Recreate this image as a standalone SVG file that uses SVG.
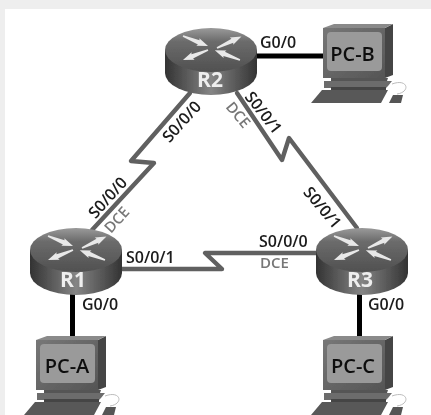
<svg xmlns="http://www.w3.org/2000/svg" width="431" height="415" viewBox="0 0 431 415">
<style>
text{font-family:"Open Sans","Liberation Sans",sans-serif}
.l{font-size:16px;font-weight:600;fill:#1a1a1a}
.d{font-size:15px;font-weight:600;fill:#777}
.r{font-size:21px;font-weight:700;fill:#eee;text-anchor:middle}
.p{font-size:20px;font-weight:600;fill:#111;text-anchor:middle}
.c{text-anchor:middle}
.s{fill:none;stroke:#606060;stroke-width:4.400;stroke-linejoin:round;stroke-linecap:round}
.e{fill:none;stroke:#000;stroke-width:5}
</style>
<defs>
<filter id="b" x="-5%" y="-5%" width="110%" height="110%"><feGaussianBlur stdDeviation="0.5"/></filter>
<linearGradient id="body" x1="0" x2="1" y1="0" y2="0"><stop offset="0" stop-color="#333"/><stop offset=".5" stop-color="#858585"/><stop offset="1" stop-color="#333"/></linearGradient>
<linearGradient id="top" x1="0" x2="0" y1="0" y2="1"><stop offset="0" stop-color="#9a9a9a"/><stop offset=".3" stop-color="#6c6c6c"/><stop offset="1" stop-color="#505050"/></linearGradient>
<linearGradient id="mon" x1="0" x2="1" y1="0" y2="1"><stop offset="0" stop-color="#777"/><stop offset="1" stop-color="#555"/></linearGradient>
<path id="ar" d="M0,-.8L17,-2.200L16,-4L27,0L16,4L17,2.200L0,.8Z" fill="#e8e8e8"/>
<g id="router">
<path d="M-46,22V45A46,22 0 0 0 46,45V22Z" fill="url(#body)"/>
<ellipse cx="0" cy="22" rx="46" ry="22" fill="url(#top)"/>
<use href="#ar" transform="translate(-28,8) rotate(22)"/>
<use href="#ar" transform="translate(-3,22) rotate(158)"/>
<use href="#ar" transform="translate(6,20) rotate(-25)"/>
<use href="#ar" transform="translate(29,32) rotate(201)"/>
</g>
<g id="pc">
<path d="M385,28L393,24V75L385,78Z" fill="#444"/>
<path d="M323,28L334,24H393L385,28Z" fill="#8a8a8a"/>
<rect x="323" y="28" width="62" height="50" fill="url(#mon)"/>
<rect x="327" y="32" width="55" height="39" rx="4" fill="#9a9a9a"/>
<path d="M331,78H388L386,84H331Z" fill="#555"/>
<path d="M324,81H392L388,86L386,88H324Z" fill="#6c6c6c"/>
<rect x="331" y="87" width="55" height="6" fill="#444"/>
<path d="M322,90H388L381,103H311Z" fill="#585858"/>
<path d="M392,84C408,78 411,92 397,94" fill="none" stroke="#bbb" stroke-width="1"/>
<path d="M389,103L393,95H403L401,103Z" fill="#555"/>
</g>
</defs>
<rect width="431" height="415" fill="#fff"/>
<path d="M0,0H431V9H5V415H0Z" fill="#eee"/>
<g filter="url(#b)">
<g id="connectors">
<path class="e" d="M257,56H324"/>
<path class="e" d="M72.500,294V337"/>
<path class="e" d="M359.500,294V337"/>
<path class="s" d="M190,93L131,161L154,163L92,230"/>
<path class="s" d="M237,93L282,160L289,138L357,228"/>
<path class="s" d="M122,269H222L205,253H316"/>
</g>
<g id="R2"><use href="#router" transform="translate(211,28)"/><text class="r" x="210" y="87">R2</text></g>
<g id="R1"><use href="#router" transform="translate(76,228)"/><text class="r" x="73" y="287">R1</text></g>
<g id="R3"><use href="#router" transform="translate(362,228)"/><text class="r" x="360" y="287">R3</text></g>
<g id="PC-B"><use href="#pc"/><text class="p" x="352.500" y="61">PC-B</text></g>
<g id="PC-A"><use href="#pc" transform="translate(-287,312)"/><text class="p" x="67" y="373">PC-A</text></g>
<g id="PC-C"><use href="#pc" transform="translate(0,312)"/><text class="p" x="353" y="373">PC-C</text></g>
<g id="labels">
<text class="l" x="260" y="48">G0/0</text>
<text class="l" x="82" y="310">G0/0</text>
<text class="l" x="368" y="310">G0/0</text>
<text class="l" x="126" y="263">S0/0/1</text>
<text class="l" x="259" y="247">S0/0/0</text>
<text class="d" x="260" y="268">DCE</text>
<text class="l c" transform="translate(182,122) rotate(-48)" y="5">S0/0/0</text>
<text class="l c" transform="translate(108,198) rotate(-48)" y="5">S0/0/0</text>
<text class="d c" transform="translate(117,220) rotate(-48)" y="5">DCE</text>
<text class="l c" transform="translate(263,113) rotate(52)" y="5">S0/0/1</text>
<text class="l c" transform="translate(322,208) rotate(50)" y="5">S0/0/1</text>
<text class="d c" transform="translate(238,115) rotate(50)" y="5">DCE</text>
</g>
</g>
</svg>
